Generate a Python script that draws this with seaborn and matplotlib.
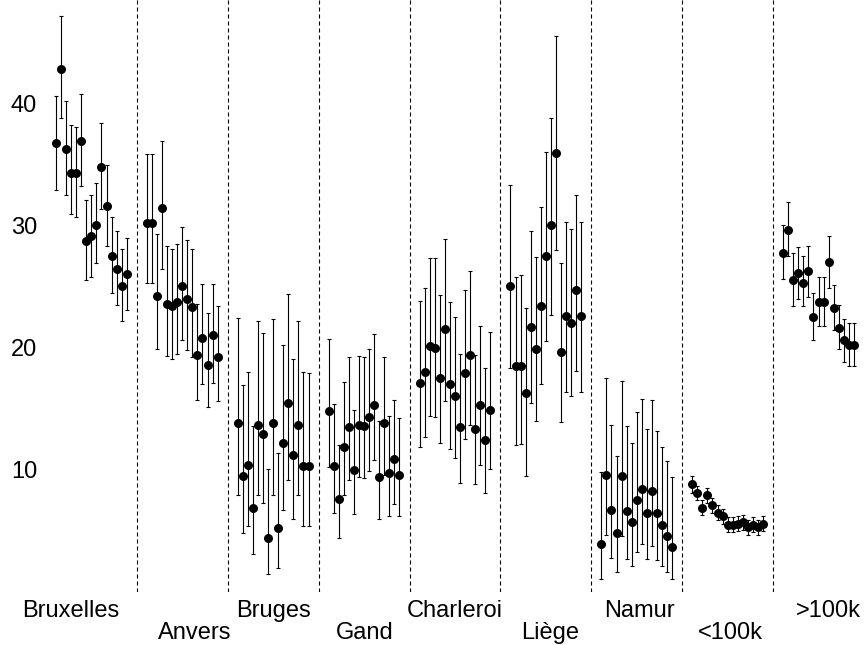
import numpy as np
import pandas as pd
import matplotlib
matplotlib.use("Agg")
import matplotlib.pyplot as plt
import seaborn as sns

groups = ["Bruxelles", "Anvers", "Bruges", "Gand", "Charleroi", "Liège", "Namur", "<100k", ">100k"]

bruxelles = [36.7, 42.8, 36.2, 34.3, 34.3, 36.9, 28.7, 29.1, 30.0, 34.8, 31.6, 27.5, 26.4, 25.0, 26.0]
brux_lo = [32.9, 38.8, 32.5, 30.9, 30.7, 33.2, 25.5, 25.8, 26.9, 31.3, 28.3, 24.5, 23.5, 22.2, 23.1]
brux_hi = [40.6, 47.1, 40.2, 38.2, 38.0, 40.7, 32.1, 32.5, 33.5, 38.4, 34.9, 30.7, 29.5, 28.1, 29.0]

anvers = [30.2, 30.2, 24.2, 31.4, 23.6, 23.4, 23.7, 25.0, 24.0, 23.3, 19.4, 20.8, 18.6, 21.0, 19.2]
anv_lo = [25.3, 25.3, 19.9, 26.4, 19.3, 19.1, 19.5, 20.6, 19.8, 19.2, 15.7, 17.0, 15.1, 17.1, 15.6]
anv_hi = [35.8, 35.8, 29.3, 36.9, 28.3, 28.1, 28.5, 29.9, 28.8, 28.1, 23.6, 25.2, 22.8, 25.2, 23.4]

bruges = [13.8, 9.5, 10.4, 6.9, 13.7, 12.9, 4.4, 13.8, 5.2, 12.2, 15.5, 11.2, 13.7, 10.3, 10.3]
bru_lo = [7.9, 4.8, 5.4, 3.1, 7.9, 7.3, 1.5, 7.9, 2.0, 6.7, 9.2, 6.0, 7.9, 5.4, 5.4]
bru_hi = [22.4, 16.9, 18.0, 13.6, 22.2, 21.2, 10.1, 22.3, 11.4, 20.2, 24.4, 19.1, 22.2, 18.0, 17.9]

gand = [14.8, 10.3, 7.6, 11.9, 13.5, 10.0, 13.7, 13.6, 14.3, 15.3, 9.4, 13.8, 9.7, 10.9, 9.6]
gand_lo = [10.2, 6.5, 4.4, 7.9, 9.2, 6.4, 9.4, 9.3, 9.9, 10.8, 6.0, 9.6, 6.2, 7.2, 6.2]
gand_hi = [20.7, 15.4, 12.0, 17.2, 19.2, 14.9, 19.3, 19.2, 19.9, 21.1, 14.0, 19.2, 14.4, 15.7, 14.2]

charleroi = [17.1, 18.0, 20.1, 20.0, 17.5, 21.5, 17.0, 16.0, 13.5, 17.9, 19.4, 13.3, 15.3, 12.4, 14.9]
cha_lo = [11.9, 12.7, 14.4, 14.3, 12.2, 15.6, 11.7, 11.0, 8.9, 12.5, 13.7, 8.8, 10.4, 8.1, 10.1]
cha_hi = [23.8, 24.9, 27.3, 27.3, 24.3, 28.9, 23.7, 22.5, 19.5, 24.7, 26.3, 19.4, 21.8, 18.3, 21.3]

liege = [25.0, 18.5, 18.5, 16.3, 21.7, 19.9, 23.4, 27.5, 30.0, 35.9, 19.6, 22.6, 22.0, 24.7, 22.6]
lie_lo = [18.3, 12.0, 12.1, 9.5, 15.5, 14.0, 17.0, 20.5, 22.7, 28.0, 13.9, 16.4, 16.0, 18.1, 16.4]
lie_hi = [33.3, 25.8, 25.9, 23.2, 29.5, 27.4, 31.5, 36.0, 38.8, 45.5, 26.9, 30.3, 29.7, 32.5, 30.3]

namur = [3.9, 9.6, 6.7, 4.8, 9.5, 6.6, 5.7, 7.5, 8.4, 6.5, 8.3, 6.5, 5.5, 4.6, 3.7]
nam_lo = [1.1, 4.7, 2.8, 1.6, 4.6, 2.7, 2.1, 3.3, 3.9, 2.7, 3.8, 2.6, 2.1, 1.6, 1.1]
nam_hi = [9.8, 17.5, 13.7, 11.1, 17.3, 13.6, 12.2, 14.7, 15.8, 13.3, 15.7, 13.2, 11.9, 10.7, 9.4]

lt100k = [8.8, 8.1, 6.9, 7.9, 7.1, 6.5, 6.2, 5.5, 5.5, 5.6, 5.7, 5.3, 5.5, 5.3, 5.6]
lt_lo = [8.1, 7.5, 6.3, 7.3, 6.5, 5.9, 5.6, 4.9, 4.9, 5.0, 5.1, 4.7, 4.9, 4.7, 5.0]
lt_hi = [9.5, 8.7, 7.5, 8.5, 7.7, 7.1, 6.8, 6.1, 6.1, 6.2, 6.3, 5.9, 6.1, 5.9, 6.2]

gt100k = [27.7, 29.6, 25.5, 26.1, 25.3, 26.3, 22.5, 23.7, 23.7, 27.0, 23.2, 21.6, 20.6, 20.2, 20.2]
gt_lo = [25.6, 27.5, 23.4, 24.0, 23.4, 24.1, 20.6, 21.8, 21.8, 24.9, 21.4, 19.9, 18.8, 18.5, 18.5]
gt_hi = [30.0, 31.9, 27.7, 28.2, 27.5, 28.3, 24.5, 25.8, 25.8, 29.1, 25.1, 23.5, 22.3, 22.0, 22.0]

y_ticks = [10, 20, 30, 40]

values = [bruxelles, anvers, bruges, gand, charleroi, liege, namur, lt100k, gt100k]
lows = [brux_lo, anv_lo, bru_lo, gand_lo, cha_lo, lie_lo, nam_lo, lt_lo, gt_lo]
highs = [brux_hi, anv_hi, bru_hi, gand_hi, cha_hi, lie_hi, nam_hi, lt_hi, gt_hi]

# layout
slot = 18  # 15 points + 3 empty slots per group
rows = []
for g, (name, v, lo, hi) in enumerate(zip(groups, values, lows, highs)):
    for i in range(len(v)):
        rows.append(dict(group=name, x=g * slot + i, y=v[i], lo=lo[i], hi=hi[i]))
df = pd.DataFrame(rows)

label_offsets = [-4.0, 2.5, 0.0, 0.2, 0.0, 0.8, 0.6, 0.5, 1.9]
label_pos = [g * slot + 7 + off for g, off in enumerate(label_offsets)]

sns.set_style("white")
plt.rcParams["font.family"] = ["Liberation Sans", "DejaVu Sans"]

fig = plt.figure(figsize=(8.65, 6.45), dpi=100)
ax = fig.add_axes([40 / 865, 53 / 645, 825 / 865, 592 / 645])

ax.errorbar(df["x"], df["y"], yerr=[df["y"] - df["lo"], df["hi"] - df["y"]],
            fmt="none", ecolor="black", elinewidth=0.8, capsize=1.6, capthick=0.8, zorder=2)
sns.scatterplot(data=df, x="x", y="y", color="black", s=42, linewidth=0, ax=ax, zorder=3, legend=False)

for g in range(len(groups) - 1):
    ax.axvline(g * slot + 16, color="black", linewidth=0.8, linestyle=(0, (3.6, 2.7)), zorder=1)

ax.set_xlim(-3.17, 160.2)
ax.set_ylim(0.0, 48.43)
for s in ax.spines.values():
    s.set_visible(False)

ax.set_yticks(y_ticks)
ax.set_yticklabels([str(t) for t in y_ticks], fontsize=17, color="black")
ax.tick_params(axis="y", length=0, pad=2)

upper = list(range(0, len(groups), 2))
lower = list(range(1, len(groups), 2))
ax.set_xticks([label_pos[i] for i in upper])
ax.set_xticklabels([groups[i] for i in upper], fontsize=17, color="black")
ax.set_xticks([label_pos[i] for i in lower], minor=True)
ax.set_xticklabels([groups[i] for i in lower], minor=True, fontsize=17, color="black")
ax.tick_params(axis="x", which="major", length=0, pad=5.5)
ax.tick_params(axis="x", which="minor", length=0, pad=21.8)
ax.set_xlabel("")
ax.set_ylabel("")
ax.grid(False)

fig.savefig("out.png", dpi=100)
